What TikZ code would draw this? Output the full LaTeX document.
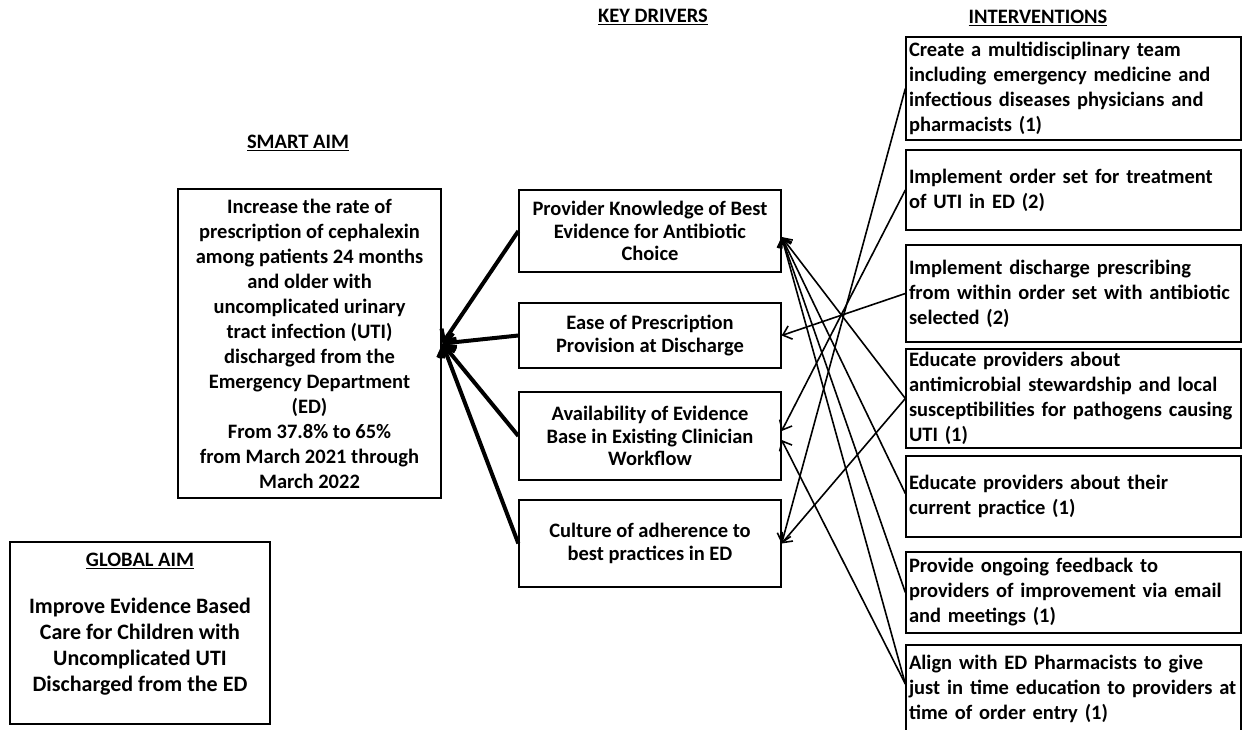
\documentclass[tikz,border=0pt]{standalone}
\usepackage{fontspec}
\setmainfont{Carlito}
\usetikzlibrary{arrows.meta}
\begin{document}
\begin{tikzpicture}[x=1pt,y=-1pt,
  every node/.style={font=\bfseries\fontsize{20.5}{25}\selectfont, inner sep=0pt},
  heading/.style={font=\bfseries\fontsize{20.5}{25}\selectfont},
  aimbox/.style={draw, line width=2.8pt, align=center},
  drvbox/.style={draw, line width=1.3pt, align=center, minimum width=262pt,
                 font=\bfseries\fontsize{20.5}{22.5}\selectfont},
  intbox/.style={draw, line width=1.3pt, align=left, text width=329pt,
                 inner xsep=3pt, minimum width=335pt},
  smallarrow/.style={line width=1.6pt, -{Straight Barb[length=8pt,width=14pt]}},
  bigarrow/.style={line width=4pt, -{Straight Barb[length=9pt,width=18pt]}}
]
\useasboundingbox (0,0) rectangle (1245,730);

% titles
\node[heading] (smarttitle) at (298,143) {\underline{SMART AIM}};
\node[heading] (drvtitle) at (653,17) {\underline{KEY DRIVERS}};
\node[heading] (inttitle) at (1038,18) {\underline{INTERVENTIONS}};

% smart aim
\node[aimbox, minimum width=263pt, minimum height=309pt] (smart) at (309.5,343.5)
 {Increase the rate of\\ prescription of cephalexin\\ among patients 24 months\\
  and older with\\ uncomplicated urinary\\ tract infection (UTI)\\ discharged from the\\
  Emergency Department\\ (ED)\\ From 37.8\% to 65\%\\ from March 2021 through\\ March 2022};

% global aim
\node[aimbox, minimum width=260pt, minimum height=182pt] (global) at (140,633) {};
\node[heading] (globaltitle) at (140,561) {\underline{GLOBAL AIM}};
\node[align=center, font=\bfseries\fontsize{22}{26}\selectfont] (globaltext) at (140,647)
 {Improve Evidence Based\\ Care for Children with\\ Uncomplicated UTI\\ Discharged from the ED};

% key drivers
\node[drvbox, minimum height=82pt] (d1) at (650,231)
 {Provider Knowledge of Best\\ Evidence for Antibiotic\\ Choice};
\node[drvbox, minimum height=65pt] (d2) at (650,335.5)
 {Ease of Prescription\\ Provision at Discharge};
\node[drvbox, minimum height=88pt] (d3) at (650,436)
 {Availability of Evidence\\ Base in Existing Clinician\\ Workflow};
\node[drvbox, minimum height=87pt] (d4) at (650,543.5)
 {Culture of adherence to\\ best practices in ED};

% interventions
\node[intbox, minimum height=103pt] (i1) at (1073.5,88.5)
 {Create a multidisciplinary team\\ including emergency medicine and\\ infectious diseases physicians and\\ pharmacists (1)};
\node[intbox, minimum height=80pt] (i2) at (1073.5,190)
 {Implement order set for treatment\\ of UTI in ED (2)};
\node[intbox, minimum height=97pt] (i3) at (1073.5,293.5)
 {Implement discharge prescribing\\ from within order set with antibiotic\\ selected (2)};
\node[intbox, minimum height=99pt] (i4) at (1073.5,398.5)
 {Educate providers about\\ antimicrobial stewardship and local\\ susceptibilities for pathogens causing\\ UTI (1)};
\node[intbox, minimum height=81pt] (i5) at (1073.5,496.5)
 {Educate providers about their\\ current practice (1)};
\node[intbox, minimum height=81pt] (i6) at (1073.5,592.5)
 {Provide ongoing feedback to\\ providers of improvement via email\\ and meetings (1)};
\node[intbox, minimum height=88pt] (i7) at (1073.5,689)
 {Align with ED Pharmacists to give\\ just in time education to providers at\\ time of order entry (1)};

% drivers -> smart aim
\draw[bigarrow] (d1.west) -- (smart.east);
\draw[bigarrow] (d2.west) -- (smart.east);
\draw[bigarrow] (d3.west) -- (smart.east);
\draw[bigarrow] (d4.west) -- (smart.east);

% interventions -> drivers
\draw[smallarrow] (i1.west) -- (d4.east);
\draw[smallarrow] (i2.west) -- ([yshift=5pt]d3.east);
\draw[smallarrow] (i3.west) -- (d2.east);
\draw[smallarrow] (i4.west) -- ([yshift=-6pt]d1.east);
\draw[smallarrow] (i4.west) -- (d4.east);
\draw[smallarrow] ([yshift=3pt]i5.west) -- ([yshift=-6pt]d1.east);
\draw[smallarrow] (i6.west) -- ([yshift=-6pt]d1.east);
\draw[smallarrow] ([yshift=5pt]i7.west) -- ([yshift=-6pt]d1.east);
\draw[smallarrow] ([yshift=5pt]i7.west) -- ([yshift=-4pt]d3.east);
\end{tikzpicture}
\end{document}
